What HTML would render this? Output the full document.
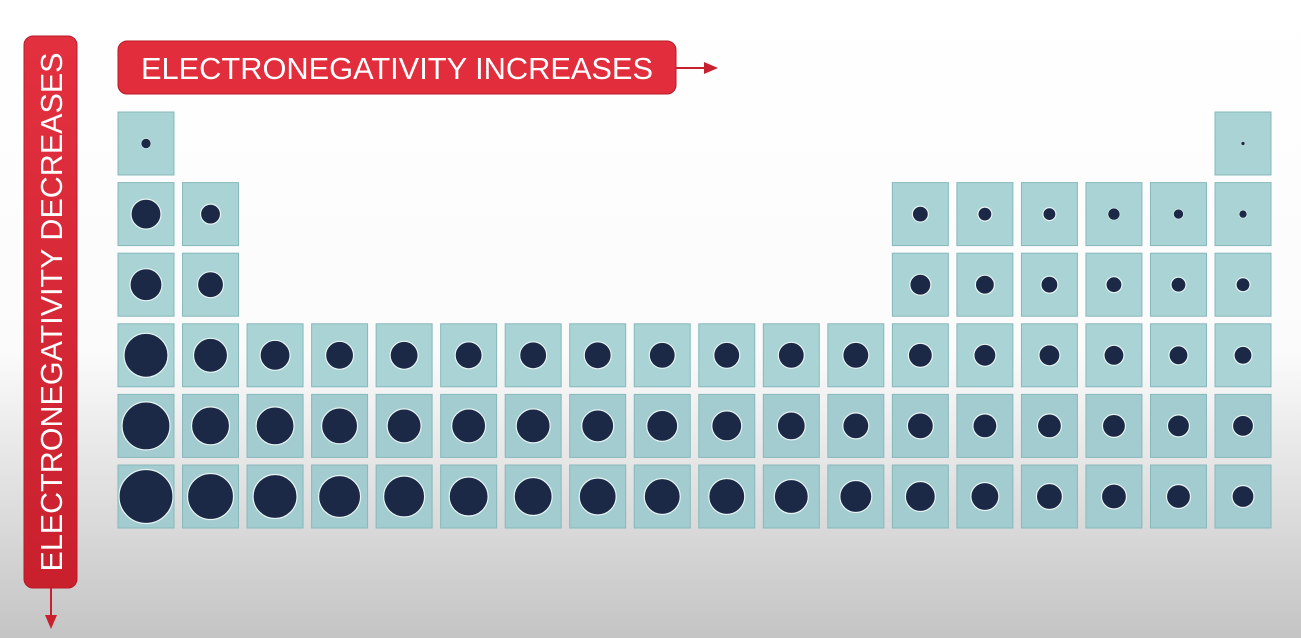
<!DOCTYPE html>
<html><head><meta charset="utf-8"><style>
html,body{margin:0;padding:0;width:1301px;height:638px;overflow:hidden;background:#fff}
svg{display:block}
</style></head><body>
<svg id="chart" width="1301" height="638" viewBox="0 0 1301 638" xmlns="http://www.w3.org/2000/svg">
<defs>
<linearGradient id="bg" x1="0" y1="0" x2="0" y2="1">
<stop offset="0" stop-color="#ffffff"/><stop offset="0.55" stop-color="#fbfbfb"/><stop offset="1" stop-color="#c4c4c4"/>
</linearGradient>
<linearGradient id="cell" x1="0" y1="0" x2="0" y2="1" gradientUnits="userSpaceOnUse" x1b="0">
<stop offset="0" stop-color="#abd5d7"/><stop offset="1" stop-color="#9fc6c8"/>
</linearGradient>
<linearGradient id="red" x1="0" y1="0" x2="0" y2="1">
<stop offset="0" stop-color="#e3303f"/><stop offset="1" stop-color="#c9202e"/>
</linearGradient>
</defs>
<rect x="0" y="0" width="1301" height="638" fill="url(#bg)"/>
<g id="cells"></g>
<g>
<rect x="118" y="41" width="558" height="53" rx="9" fill="#e22d3c" stroke="#b81a28"/>
<text x="397" y="79" text-anchor="middle" font-family="Liberation Sans, sans-serif" font-size="31" fill="#fff" textLength="512" lengthAdjust="spacingAndGlyphs">ELECTRONEGATIVITY INCREASES</text>
<line x1="676" y1="68" x2="708" y2="68" stroke="#c8202e" stroke-width="2"/>
<polygon points="704,62 718,68 704,74" fill="#c8202e"/>
</g>
<g>
<rect x="24" y="36" width="53" height="552" rx="9" fill="url(#red)" stroke="#b81a28"/>
<text transform="translate(62,312) rotate(-90)" text-anchor="middle" font-family="Liberation Sans, sans-serif" font-size="31" fill="#fff" textLength="519" lengthAdjust="spacingAndGlyphs">ELECTRONEGATIVITY DECREASES</text>
<line x1="51" y1="588" x2="51" y2="618" stroke="#c8202e" stroke-width="2"/>
<polygon points="45,615 51,629 57,615" fill="#c8202e"/>
</g>
</svg>
<script>
// atom radius (px) per period, per group (null = no element)
const period1 = [5,null,null,null,null,null,null,null,null,null,null,null,null,null,null,null,null,2];
const period2 = [15,10,null,null,null,null,null,null,null,null,null,null,8,7,6.5,6,5,4];
const period3 = [16,13,null,null,null,null,null,null,null,null,null,null,10.5,9.5,8.5,8,7.5,7];
const period4 = [22,17,15,14,14,13.5,13.5,13.5,13,13,13,13,12,11,10.5,10,9.5,9];
const period5 = [24,19,19,18,17,17,17,16,15.5,15,14,13,13,12,12,11.5,11,10.5];
const period6 = [27,23,22,21,20.5,19.5,19,18.5,18,18,17,16,15,14,13,12.5,12,11];
const periods = [period1,period2,period3,period4,period5,period6];
const NS='http://www.w3.org/2000/svg';
const xScale = g => 118 + g*64.53;
const yScale = p => 112 + p*70.6;
const g = document.getElementById('cells');
periods.forEach((row,p)=>{
  row.forEach((r,c)=>{
    if(r===null) return;
    const x=xScale(c), y=yScale(p);
    const rect=document.createElementNS(NS,'rect');
    
    
    rect.setAttribute('x',x);rect.setAttribute('y',y);
    rect.setAttribute('width',56);rect.setAttribute('height',63);
    rect.setAttribute('fill',p>=4?'#a2cccf':'#a9d3d5');
    rect.setAttribute('stroke','#86b9bc');rect.setAttribute('stroke-width','1');
    g.appendChild(rect);
    const circ=document.createElementNS(NS,'circle');
    
    
    circ.setAttribute('cx',x+28);circ.setAttribute('cy',y+31.5);
    circ.setAttribute('r',r);
    circ.setAttribute('fill','#1b2946');
    circ.setAttribute('stroke','#e8f4f4');circ.setAttribute('stroke-width',r>6?'1.2':'0.6');
    g.appendChild(circ);
  });
});
</script>
</body></html>
